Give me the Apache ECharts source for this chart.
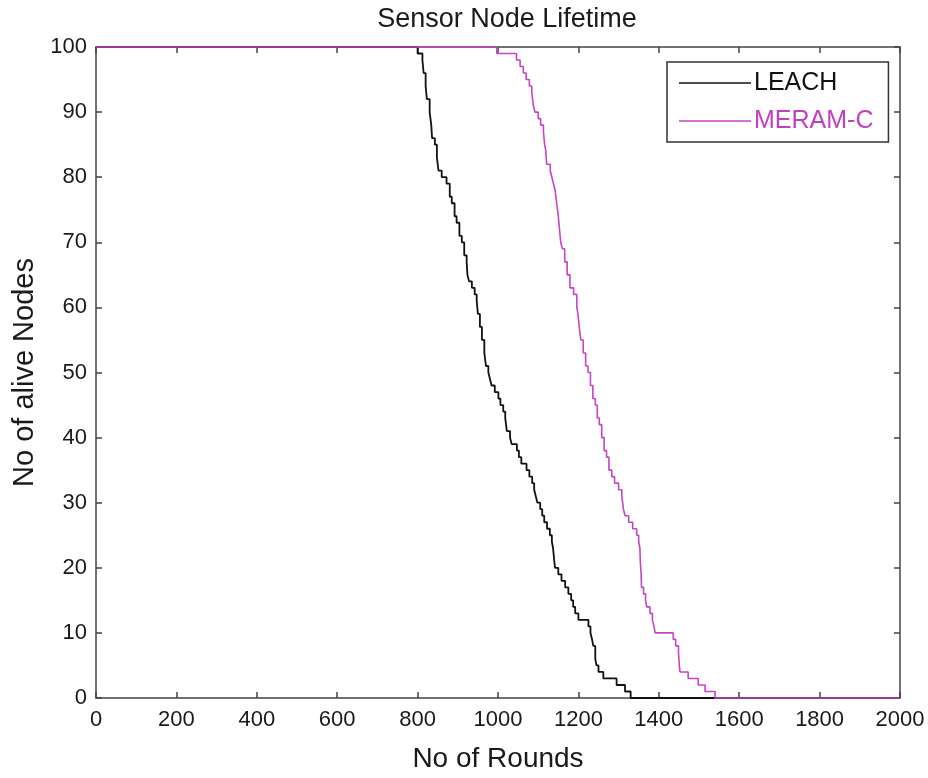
<!DOCTYPE html>
<html>
<head>
<meta charset="utf-8">
<script src="https://cdn.jsdelivr.net/npm/echarts@6/dist/echarts.min.js"></script>
<style>
html,body{margin:0;padding:0;background:#fff;}
#chart{width:928px;height:778px;}
</style>
</head>
<body>
<div id="chart"></div>
<script>
// Breakpoints: [round at which alive count becomes value, alive nodes]
const leachRounds = [0,800,812,815,820,823,830,834,836,843,848,852,860,872,880,885,892,897,904,910,916,922,924,928,935,942,947,950,955,960,966,970,976,980,984,992,1001,1006,1013,1018,1022,1030,1034,1047,1052,1058,1071,1078,1085,1090,1094,1098,1105,1110,1115,1122,1129,1134,1137,1140,1142,1150,1158,1167,1175,1182,1187,1192,1200,1225,1230,1234,1237,1242,1245,1250,1262,1295,1316,1330,2000];
const leachAlive  = [100,99,98,96,94,92,90,88,86,85,83,81,80,79,77,76,74,73,71,70,68,67,65,64,63,62,61,59,57,55,53,51,50,49,48,47,46,45,44,43,41,40,39,38,37,36,35,34,33,32,31,30,29,28,27,26,25,24,23,21,20,19,18,17,16,15,14,13,12,11,10,9,8,6,5,4,3,2,1,0,0];

const meramRounds = [0,997,1046,1055,1063,1070,1078,1084,1088,1092,1100,1106,1113,1116,1119,1121,1130,1134,1138,1142,1146,1150,1153,1156,1160,1166,1172,1179,1188,1196,1199,1202,1206,1212,1218,1224,1230,1236,1242,1247,1252,1258,1264,1270,1276,1283,1290,1300,1308,1312,1316,1325,1335,1345,1350,1353,1354,1356,1357,1362,1367,1370,1378,1384,1388,1391,1436,1442,1449,1451,1453,1473,1498,1515,1540,2000];
const meramAlive  = [100,99,98,97,96,95,94,93,91,90,89,88,87,85,84,82,81,80,79,78,76,74,72,70,69,67,65,63,62,60,59,57,55,53,51,50,48,46,45,43,42,40,38,37,35,34,33,32,31,29,28,27,26,25,24,23,21,19,17,16,15,14,13,12,11,10,9,8,7,5,4,3,2,1,0,0];

const xTicks = [0,200,400,600,800,1000,1200,1400,1600,1800,2000];
const yTicks = [0,10,20,30,40,50,60,70,80,90,100];

const seriesNames = ['LEACH','MERAM-C'];
const seriesColors = ['#111111','#c545c5'];

const zip = (a,b) => a.map((v,i)=>[v,b[i]]);

const FONT = '"Liberation Sans", Arial, Helvetica, sans-serif';
const axisColor = '#444';

const chart = echarts.init(document.getElementById('chart'), null, {renderer:'canvas'});
const baseX = {
  type:'value', min:xTicks[0], max:xTicks[xTicks.length-1], interval:200,
  axisLine:{show:true, onZero:false, lineStyle:{color:axisColor, width:1.5}},
  axisTick:{show:true, inside:true, length:6, lineStyle:{color:axisColor, width:1.5}},
  splitLine:{show:false}
};
const baseY = {
  type:'value', min:yTicks[0], max:yTicks[yTicks.length-1], interval:10,
  axisLine:{show:true, onZero:false, lineStyle:{color:axisColor, width:1.5}},
  axisTick:{show:true, inside:true, length:6, lineStyle:{color:axisColor, width:1.5}},
  splitLine:{show:false}
};
chart.setOption({
  backgroundColor:'#fff',
  animation:false,
  title:{
    text:'Sensor Node Lifetime', left:502, top:1, textAlign:'center',
    textStyle:{fontFamily:FONT, fontSize:27, fontWeight:'normal', color:'#1a1a1a'}
  },
  legend:{
    left:667, top:62, orient:'vertical',
    icon:'rect',
    data:[
      {name:seriesNames[0], textStyle:{color:seriesColors[0]}},
      {name:seriesNames[1], textStyle:{color:'#c040c0'}}
    ],
    itemWidth:72, itemHeight:1.6, itemGap:12,
    padding:[8,15,8,12],
    borderColor:'#333', borderWidth:1.5,
    backgroundColor:'#fff',
    textStyle:{fontFamily:FONT, fontSize:25, padding:[0,0,0,-2], lineHeight:26}
  },
  grid:{left:96, right:28, top:47, bottom:77, containLabel:false},
  xAxis:[
    Object.assign({}, baseX, {
      position:'bottom',
      name:'No of Rounds', nameLocation:'middle', nameGap:47,
      nameTextStyle:{fontFamily:FONT, fontSize:28, color:'#1a1a1a'},
      axisLabel:{show:true, margin:11, fontFamily:FONT, fontSize:22, color:'#1a1a1a',
        formatter:(v)=> xTicks.includes(v) ? String(v) : ''}
    }),
    Object.assign({}, baseX, {position:'top', axisLabel:{show:false}})
  ],
  yAxis:[
    Object.assign({}, baseY, {
      position:'left',
      name:'No of alive Nodes', nameLocation:'middle', nameGap:56,
      nameTextStyle:{fontFamily:FONT, fontSize:29, color:'#1a1a1a'},
      axisLabel:{show:true, margin:9, fontFamily:FONT, fontSize:22, color:'#1a1a1a',
        formatter:(v)=> yTicks.includes(v) ? String(v) : ''}
    }),
    Object.assign({}, baseY, {position:'right', axisLabel:{show:false}})
  ],
  series:[
    {
      name:seriesNames[0], type:'line', step:'end', symbol:'none', clip:false,
      data:zip(leachRounds, leachAlive),
      lineStyle:{color:seriesColors[0], width:1.8},
      itemStyle:{color:seriesColors[0]},
      z:3
    },
    {
      name:seriesNames[1], type:'line', step:'end', symbol:'none', clip:false,
      data:zip(meramRounds, meramAlive),
      lineStyle:{color:seriesColors[1], width:1.6},
      itemStyle:{color:seriesColors[1]},
      z:4
    }
  ]
});
</script>
</body>
</html>
